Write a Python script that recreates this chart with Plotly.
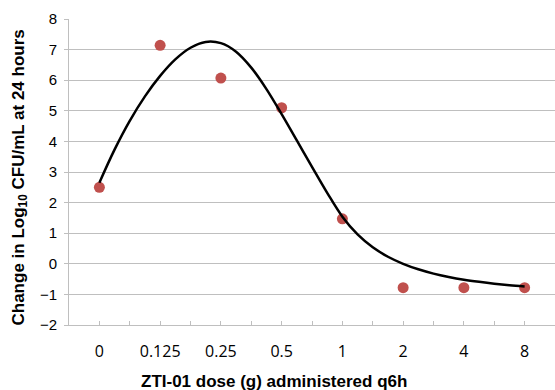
import plotly.graph_objects as go

# Dose categories (x-axis tick labels)
dose_labels = ["0", "0.125", "0.25", "0.5", "1", "2", "4", "8"]
# Observed change in Log10 CFU/mL at 24 hours
observed_change = [2.5, 7.14, 6.07, 5.1, 1.47, -0.78, -0.78, -0.78]

# Fitted curve (x in category index units, step 0.25)
fit_pos = [0, 0.25, 0.5, 0.75, 1, 1.25, 1.5, 1.75, 2, 2.25, 2.5, 2.75, 3,
           3.25, 3.5, 3.75, 4, 4.25, 4.5, 4.75, 5, 5.25, 5.5, 5.75, 6,
           6.25, 6.5, 6.75, 7]
fit_change = [2.65, 3.73, 4.67, 5.47, 6.14, 6.68, 7.06, 7.25, 7.21, 6.93, 6.41,
              5.71, 4.89, 4.03, 3.17, 2.32, 1.54, 0.96, 0.54, 0.23, 0.0,
              -0.18, -0.32, -0.43, -0.52, -0.59, -0.65, -0.70, -0.74]

y_ticks = [-2, -1, 0, 1, 2, 3, 4, 5, 6, 7, 8]

cat_pos = list(range(len(dose_labels)))
between_pos = [i - 0.5 for i in range(len(dose_labels) + 1)]

fig = go.Figure()
fig.add_trace(go.Scatter(
    x=cat_pos, y=observed_change, mode="markers",
    marker=dict(color="#C0504D", size=11, line=dict(width=0)),
    showlegend=False, hoverinfo="skip"))
fig.add_trace(go.Scatter(
    x=fit_pos, y=fit_change, mode="lines",
    line=dict(color="black", width=2.5, shape="spline", smoothing=1.0),
    showlegend=False, hoverinfo="skip"))

grid_col = "#BFBFBF"
fig.update_layout(
    width=555, height=390,
    margin=dict(l=69, r=0, t=19, b=65),
    paper_bgcolor="white", plot_bgcolor="white",
    xaxis=dict(
        range=[-0.5, len(dose_labels) - 0.5],
        tickmode="array", tickvals=cat_pos, ticktext=dose_labels,
        ticks="inside", ticklen=4, tickcolor=grid_col, tickwidth=1,
        minor=dict(tickmode="array", tickvals=between_pos, ticks="inside",
                   ticklen=4, tickcolor=grid_col, tickwidth=1, showgrid=False),
        showline=True, linecolor=grid_col, linewidth=1,
        showgrid=False, zeroline=False,
        tickfont=dict(family="Open Sans", size=16, color="black"),
        ticklabelstandoff=12,
    ),
    yaxis=dict(
        range=[-2, 8], tickmode="array", tickvals=y_ticks,
        ticks="outside", ticklen=4, tickcolor=grid_col, tickwidth=1,
        showline=True, linecolor=grid_col, linewidth=1,
        showgrid=True, gridcolor=grid_col, gridwidth=1,
        zeroline=False,
        tickfont=dict(family="Liberation Sans", size=15, color="black"),
        ticklabelstandoff=4,
    ),
    annotations=[
        dict(text="ZTI-01 dose (g) administered q6h",
             xref="paper", yref="paper", x=(274 - 69) / 486, y=(325.5 - 382) / 306,
             xanchor="center", yanchor="middle", showarrow=False,
             font=dict(family="Liberation Sans", size=17, color="black", weight="bold")),
        dict(text="Change in Log<sub>10</sub> CFU/mL at 24 hours",
             xref="paper", yref="paper", x=(20 - 69) / 486, y=(325.5 - 178) / 306,
             xanchor="center", yanchor="middle", textangle=-90, showarrow=False,
             font=dict(family="Liberation Sans", size=17, color="black", weight="bold")),
    ],
)

fig.write_html("out.html")
